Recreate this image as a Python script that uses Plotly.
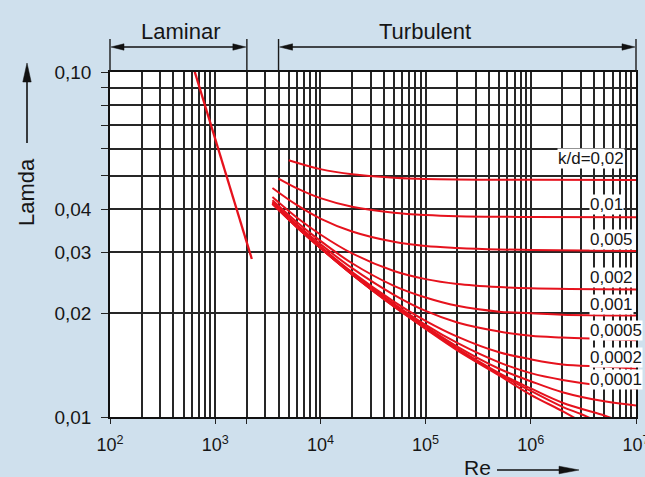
import math
import plotly.graph_objects as go

# ---------------- data ----------------
re_laminar = [620, 2230]
lam_laminar = [0.1032, 0.0287]

re_kd_0_02 = [5000, 1e4, 2e4, 5e4, 1e5, 1e6, 1e7]
lam_kd_0_02 = [0.0555, 0.0523, 0.0505, 0.0494, 0.0490, 0.0487, 0.0486]

re_kd_0_01 = [4000, 6000, 1e4, 2e4, 5e4, 1e5, 2e5, 1e6, 1e7]
lam_kd_0_01 = [0.0491, 0.0460, 0.0431, 0.0407, 0.0391, 0.0385, 0.0382, 0.0380, 0.0379]

re_kd_0_005 = [3500, 6000, 1e4, 2e4, 5e4, 1e5, 2e5, 5e5, 1e6, 1e7]
lam_kd_0_005 = [0.0461, 0.0411, 0.0376, 0.0345, 0.0322, 0.0313, 0.0309, 0.0306, 0.0305, 0.0303]

re_kd_0_002 = [3500, 6000, 1e4, 2e4, 5e4, 1e5, 2e5, 5e5, 1e6, 1e7]
lam_kd_0_002 = [0.0434, 0.0378, 0.0338, 0.0298, 0.0265, 0.0251, 0.0243, 0.0238, 0.0236, 0.0234]

re_kd_0_001 = [3500, 6000, 1e4, 2e4, 5e4, 1e5, 2e5, 5e5, 1e6, 2e6, 1e7]
lam_kd_0_001 = [0.0425, 0.0367, 0.0324, 0.0279, 0.0240, 0.0222, 0.0210, 0.0202, 0.0200, 0.0198, 0.0197]

re_kd_0_0005 = [3500, 6000, 1e4, 2e4, 5e4, 1e5, 2e5, 5e5, 1e6, 2e6, 1e7]
lam_kd_0_0005 = [0.0420, 0.0361, 0.0317, 0.0270, 0.0226, 0.0203, 0.0188, 0.0177, 0.0172, 0.0170, 0.0167]

re_kd_0_0002 = [3500, 6000, 1e4, 2e4, 5e4, 1e5, 2e5, 5e5, 1e6, 2e6, 5e6, 1e7]
lam_kd_0_0002 = [0.0417, 0.0357, 0.0312, 0.0263, 0.0216, 0.0190, 0.0171, 0.0154, 0.0147, 0.0142, 0.0140, 0.0138]

re_kd_0_0001 = [3500, 6000, 1e4, 2e4, 5e4, 1e5, 2e5, 5e5, 1e6, 2e6, 5e6, 1e7]
lam_kd_0_0001 = [0.0416, 0.0356, 0.0310, 0.0261, 0.0213, 0.0185, 0.0164, 0.0144, 0.0134, 0.0128, 0.0123, 0.0121]

re_kd_0_00005 = [3500, 6000, 1e4, 2e4, 5e4, 1e5, 2e5, 5e5, 1e6, 2e6, 5e6, 1e7]
lam_kd_0_00005 = [0.0416, 0.0355, 0.0310, 0.0260, 0.0211, 0.0183, 0.0160, 0.0138, 0.0127, 0.0118, 0.0111, 0.0108]

re_kd_0_00002 = [3500, 6000, 1e4, 2e4, 5e4, 1e5, 2e5, 5e5, 1e6, 2e6, 5e6, 6e6]
lam_kd_0_00002 = [0.0415, 0.0355, 0.0309, 0.0259, 0.0210, 0.0181, 0.0158, 0.0134, 0.0121, 0.0110, 0.0101, 0.0099]

re_kd_0_00001 = [3500, 6000, 1e4, 2e4, 5e4, 1e5, 2e5, 5e5, 1e6, 2e6, 3e6, 4e6]
lam_kd_0_00001 = [0.0415, 0.0355, 0.0309, 0.0259, 0.0209, 0.0181, 0.0157, 0.0133, 0.0119, 0.0107, 0.0102, 0.0098]

re_smooth = [3500, 6000, 1e4, 2e4, 5e4, 1e5, 2e5, 5e5, 1e6, 2e6, 3e6]
lam_smooth = [0.0415, 0.0354, 0.0309, 0.0259, 0.0209, 0.0180, 0.0156, 0.0132, 0.0116, 0.0104, 0.0097]

turbulent_curves = [
    (re_kd_0_02, lam_kd_0_02), (re_kd_0_01, lam_kd_0_01), (re_kd_0_005, lam_kd_0_005),
    (re_kd_0_002, lam_kd_0_002), (re_kd_0_001, lam_kd_0_001), (re_kd_0_0005, lam_kd_0_0005),
    (re_kd_0_0002, lam_kd_0_0002), (re_kd_0_0001, lam_kd_0_0001), (re_kd_0_00005, lam_kd_0_00005),
    (re_kd_0_00002, lam_kd_0_00002), (re_kd_0_00001, lam_kd_0_00001), (re_smooth, lam_smooth),
]

curve_labels = ["k/d=0,02", "0,01", "0,005", "0,002", "0,001", "0,0005", "0,0002", "0,0001"]

x_tick_vals = [1e2, 1e3, 2e3, 1e4, 1e5, 1e6, 1e7]
x_tick_text = ["10<sup>2</sup>", "10<sup>3</sup>", "", "10<sup>4</sup>", "10<sup>5</sup>",
               "10<sup>6</sup>", "10<sup>7</sup>"]
x_grid_vals = [m * 10 ** e for e in range(2, 7) for m in range(1, 10)] + [1e7]

y_tick_vals = [0.01, 0.02, 0.03, 0.04, 0.05, 0.06, 0.07, 0.08, 0.09, 0.10]
y_tick_text = ["0,01", "0,02", "0,03", "0,04", "", "", "", "", "", "0,10"]

# ---------------- styling / layout helpers ----------------
W, H = 645, 477
ML, MR, MT, MB = 110, 9, 72, 60
PW, PH = W - ML - MR, H - MT - MB
FONT = "Liberation Sans, Arial, Helvetica, sans-serif"
TXT = "#161616"
RED = "#e6121d"
GRID = "#262626"


def px(xpix):
    return (xpix - ML) / PW


def py(ypix):
    return 1 - (ypix - MT) / PH


def xre(v):
    return (math.log10(v) - 2) / 5


fig = go.Figure()

fig.add_trace(go.Scatter(x=re_laminar, y=lam_laminar, mode="lines",
                         line=dict(color=RED, width=2.3), hoverinfo="skip", showlegend=False))
for rx, ly in turbulent_curves:
    fig.add_trace(go.Scatter(x=rx, y=ly, mode="lines",
                             line=dict(color=RED, width=2, shape="spline", smoothing=1.0),
                             hoverinfo="skip", showlegend=False))

shapes = []
# bracket verticals above the plot
for v in [1e2, 2e3, 4e3, 1e7]:
    shapes.append(dict(type="line", xref="paper", yref="paper", x0=xre(v), x1=xre(v),
                       y0=1, y1=py(39), line=dict(color="#1a1a1a", width=1.4)))


def arrowhead(tipx, tipy, dx, dy, length, half):
    bx, by = tipx - dx * length, tipy - dy * length
    nx, ny = -dy, dx
    p1 = (bx + nx * half, by + ny * half)
    p2 = (bx - nx * half, by - ny * half)
    return dict(type="path", xref="paper", yref="paper",
                path=f"M {px(tipx)},{py(tipy)} L {px(p1[0])},{py(p1[1])} L {px(p2[0])},{py(p2[1])} Z",
                fillcolor="#111", line=dict(color="#111", width=0.5))


ay_br = 47
x_l0, x_l1 = ML, ML + xre(2e3) * PW
x_t0, x_t1 = ML + xre(4e3) * PW, ML + PW
for a, b in [(x_l0, x_l1), (x_t0, x_t1)]:
    shapes.append(dict(type="line", xref="paper", yref="paper", x0=px(a + 6), x1=px(b - 6),
                       y0=py(ay_br), y1=py(ay_br), line=dict(color="#111", width=1.4)))
    shapes.append(arrowhead(a + 1, ay_br, -1, 0, 13, 3.2))
    shapes.append(arrowhead(b - 1, ay_br, 1, 0, 13, 3.2))

# y-axis title arrow
shapes.append(dict(type="line", xref="paper", yref="paper", x0=px(27), x1=px(27),
                   y0=py(143), y1=py(75), line=dict(color="#111", width=1.6)))
shapes.append(arrowhead(27, 63, 0, -1, 19, 4.2))
# x-axis title arrow
shapes.append(dict(type="line", xref="paper", yref="paper", x0=px(497), x1=px(565),
                   y0=py(470), y1=py(470), line=dict(color="#111", width=1.6)))
shapes.append(arrowhead(579, 470, 1, 0, 20, 3.8))

annotations = [
    dict(text="Laminar", xref="paper", yref="paper", x=px(180), y=py(32), showarrow=False,
         font=dict(family=FONT, size=22, color=TXT), xanchor="center", yanchor="middle"),
    dict(text="Turbulent", xref="paper", yref="paper", x=px(425), y=py(32), showarrow=False,
         font=dict(family=FONT, size=22, color=TXT), xanchor="center", yanchor="middle"),
    dict(text="Lamda", xref="paper", yref="paper", x=px(26), y=py(192), showarrow=False,
         textangle=-90, font=dict(family=FONT, size=22, color=TXT), xanchor="center", yanchor="middle"),
    dict(text="Re", xref="paper", yref="paper", x=px(477), y=py(467), showarrow=False,
         font=dict(family=FONT, size=21, color=TXT), xanchor="center", yanchor="middle"),
]

label_pos = [(557, 158.5), (589, 204.5), (589, 239), (589, 277), (589, 304.5), (589, 330),
             (589, 357), (589, 379)]
for txt, (lx, ly) in zip(curve_labels, label_pos):
    annotations.append(dict(text=txt, xref="paper", yref="paper", x=px(lx), y=py(ly),
                            showarrow=False, xanchor="left", yanchor="middle",
                            bgcolor="white", borderpad=0,
                            font=dict(family=FONT, size=17, color=TXT)))

fig.update_layout(
    width=W, height=H,
    margin=dict(l=ML, r=MR, t=MT, b=MB, autoexpand=False),
    paper_bgcolor="#cfe0ed",
    plot_bgcolor="white",
    font=dict(family=FONT, color=TXT),
    shapes=shapes,
    annotations=annotations,
    xaxis=dict(type="log", range=[2, 7], tickmode="array", tickvals=x_tick_vals, ticktext=x_tick_text,
               ticks="outside", ticklen=5, tickwidth=1.3, tickcolor="#222",
               tickfont=dict(family=FONT, size=18, color=TXT), ticklabelstandoff=6,
               ticklabeloverflow="allow", automargin=False,
               showgrid=True, gridcolor=GRID, gridwidth=1.5,
               minor=dict(tickmode="array", tickvals=x_grid_vals, ticks="", showgrid=True,
                          gridcolor=GRID, gridwidth=1.5),
               showline=True, linecolor="#111", linewidth=1.6, mirror=True, zeroline=False),
    yaxis=dict(type="log", range=[-2, -1], tickmode="array", tickvals=y_tick_vals, ticktext=y_tick_text,
               ticks="outside", ticklen=7, tickwidth=1.3, tickcolor="#222",
               tickfont=dict(family=FONT, size=19, color=TXT), ticklabelstandoff=6,
               automargin=False,
               showgrid=True, gridcolor=GRID, gridwidth=1.5,
               showline=True, linecolor="#111", linewidth=1.6, mirror=True, zeroline=False),
)

fig.write_html("out.html", config={"displayModeBar": False},
               post_script="document.body.style.margin='0';document.body.style.background='#cfe0ed';")
